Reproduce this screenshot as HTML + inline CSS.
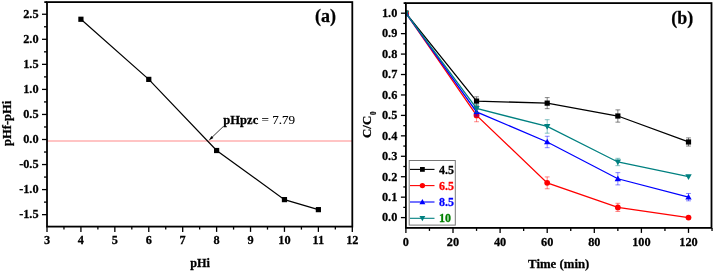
<!DOCTYPE html><html><head><meta charset="utf-8"><style>html,body{margin:0;padding:0;background:#fff;}svg{display:block;will-change:transform;}text{font-family:"Liberation Serif",serif;stroke:currentColor;stroke-width:0.25px;}</style></head><body>
<svg width="714" height="272" viewBox="0 0 714 272">
<rect width="714" height="272" fill="#fff"/>
<line x1="47.0" y1="141" x2="352.3" y2="141" stroke="#ffb0b0" stroke-width="1.6"/>
<rect x="47.0" y="2.1" width="305.3" height="224.5" fill="none" stroke="#000" stroke-width="1.8"/>
<line x1="44.3" y1="2.1" x2="47.0" y2="2.1" stroke="#000" stroke-width="1.8"/>
<line x1="42.0" y1="214.65" x2="47.0" y2="214.65" stroke="#000" stroke-width="1.3"/>
<text transform="translate(38.6 218.45) scale(1 1.08)" font-size="12.3" font-weight="bold" text-anchor="end">-1.5</text>
<line x1="44.0" y1="202.12" x2="47.0" y2="202.12" stroke="#000" stroke-width="1.3"/>
<line x1="42.0" y1="189.60" x2="47.0" y2="189.60" stroke="#000" stroke-width="1.3"/>
<text transform="translate(38.6 193.40) scale(1 1.08)" font-size="12.3" font-weight="bold" text-anchor="end">-1.0</text>
<line x1="44.0" y1="177.07" x2="47.0" y2="177.07" stroke="#000" stroke-width="1.3"/>
<line x1="42.0" y1="164.55" x2="47.0" y2="164.55" stroke="#000" stroke-width="1.3"/>
<text transform="translate(38.6 168.35) scale(1 1.08)" font-size="12.3" font-weight="bold" text-anchor="end">-0.5</text>
<line x1="44.0" y1="152.03" x2="47.0" y2="152.03" stroke="#000" stroke-width="1.3"/>
<line x1="42.0" y1="139.50" x2="47.0" y2="139.50" stroke="#000" stroke-width="1.3"/>
<text transform="translate(38.6 143.30) scale(1 1.08)" font-size="12.3" font-weight="bold" text-anchor="end">0.0</text>
<line x1="44.0" y1="126.97" x2="47.0" y2="126.97" stroke="#000" stroke-width="1.3"/>
<line x1="42.0" y1="114.45" x2="47.0" y2="114.45" stroke="#000" stroke-width="1.3"/>
<text transform="translate(38.6 118.25) scale(1 1.08)" font-size="12.3" font-weight="bold" text-anchor="end">0.5</text>
<line x1="44.0" y1="101.92" x2="47.0" y2="101.92" stroke="#000" stroke-width="1.3"/>
<line x1="42.0" y1="89.40" x2="47.0" y2="89.40" stroke="#000" stroke-width="1.3"/>
<text transform="translate(38.6 93.20) scale(1 1.08)" font-size="12.3" font-weight="bold" text-anchor="end">1.0</text>
<line x1="44.0" y1="76.88" x2="47.0" y2="76.88" stroke="#000" stroke-width="1.3"/>
<line x1="42.0" y1="64.35" x2="47.0" y2="64.35" stroke="#000" stroke-width="1.3"/>
<text transform="translate(38.6 68.15) scale(1 1.08)" font-size="12.3" font-weight="bold" text-anchor="end">1.5</text>
<line x1="44.0" y1="51.83" x2="47.0" y2="51.83" stroke="#000" stroke-width="1.3"/>
<line x1="42.0" y1="39.30" x2="47.0" y2="39.30" stroke="#000" stroke-width="1.3"/>
<text transform="translate(38.6 43.10) scale(1 1.08)" font-size="12.3" font-weight="bold" text-anchor="end">2.0</text>
<line x1="44.0" y1="26.77" x2="47.0" y2="26.77" stroke="#000" stroke-width="1.3"/>
<line x1="42.0" y1="14.25" x2="47.0" y2="14.25" stroke="#000" stroke-width="1.3"/>
<text transform="translate(38.6 18.05) scale(1 1.08)" font-size="12.3" font-weight="bold" text-anchor="end">2.5</text>
<line x1="47.00" y1="226.6" x2="47.00" y2="231.9" stroke="#000" stroke-width="1.3"/>
<text transform="translate(47.00 244.1) scale(1 1.08)" font-size="12.3" font-weight="bold" text-anchor="middle">3</text>
<line x1="63.96" y1="226.6" x2="63.96" y2="229.6" stroke="#000" stroke-width="1.3"/>
<line x1="80.92" y1="226.6" x2="80.92" y2="231.9" stroke="#000" stroke-width="1.3"/>
<text transform="translate(80.92 244.1) scale(1 1.08)" font-size="12.3" font-weight="bold" text-anchor="middle">4</text>
<line x1="97.88" y1="226.6" x2="97.88" y2="229.6" stroke="#000" stroke-width="1.3"/>
<line x1="114.84" y1="226.6" x2="114.84" y2="231.9" stroke="#000" stroke-width="1.3"/>
<text transform="translate(114.84 244.1) scale(1 1.08)" font-size="12.3" font-weight="bold" text-anchor="middle">5</text>
<line x1="131.81" y1="226.6" x2="131.81" y2="229.6" stroke="#000" stroke-width="1.3"/>
<line x1="148.77" y1="226.6" x2="148.77" y2="231.9" stroke="#000" stroke-width="1.3"/>
<text transform="translate(148.77 244.1) scale(1 1.08)" font-size="12.3" font-weight="bold" text-anchor="middle">6</text>
<line x1="165.73" y1="226.6" x2="165.73" y2="229.6" stroke="#000" stroke-width="1.3"/>
<line x1="182.69" y1="226.6" x2="182.69" y2="231.9" stroke="#000" stroke-width="1.3"/>
<text transform="translate(182.69 244.1) scale(1 1.08)" font-size="12.3" font-weight="bold" text-anchor="middle">7</text>
<line x1="199.65" y1="226.6" x2="199.65" y2="229.6" stroke="#000" stroke-width="1.3"/>
<line x1="216.61" y1="226.6" x2="216.61" y2="231.9" stroke="#000" stroke-width="1.3"/>
<text transform="translate(216.61 244.1) scale(1 1.08)" font-size="12.3" font-weight="bold" text-anchor="middle">8</text>
<line x1="233.57" y1="226.6" x2="233.57" y2="229.6" stroke="#000" stroke-width="1.3"/>
<line x1="250.53" y1="226.6" x2="250.53" y2="231.9" stroke="#000" stroke-width="1.3"/>
<text transform="translate(250.53 244.1) scale(1 1.08)" font-size="12.3" font-weight="bold" text-anchor="middle">9</text>
<line x1="267.49" y1="226.6" x2="267.49" y2="229.6" stroke="#000" stroke-width="1.3"/>
<line x1="284.46" y1="226.6" x2="284.46" y2="231.9" stroke="#000" stroke-width="1.3"/>
<text transform="translate(284.46 244.1) scale(1 1.08)" font-size="12.3" font-weight="bold" text-anchor="middle">10</text>
<line x1="301.42" y1="226.6" x2="301.42" y2="229.6" stroke="#000" stroke-width="1.3"/>
<line x1="318.38" y1="226.6" x2="318.38" y2="231.9" stroke="#000" stroke-width="1.3"/>
<text transform="translate(318.38 244.1) scale(1 1.08)" font-size="12.3" font-weight="bold" text-anchor="middle">11</text>
<line x1="335.34" y1="226.6" x2="335.34" y2="229.6" stroke="#000" stroke-width="1.3"/>
<line x1="352.30" y1="226.6" x2="352.30" y2="231.9" stroke="#000" stroke-width="1.3"/>
<text transform="translate(352.30 244.1) scale(1 1.08)" font-size="12.3" font-weight="bold" text-anchor="middle">12</text>
<polyline fill="none" stroke="#000" stroke-width="1.2" points="80.92,19.26 148.77,79.38 216.61,150.52 284.46,199.62 318.38,209.64"/>
<rect x="78.32" y="16.66" width="5.2" height="5.2" fill="#000"/>
<rect x="146.17" y="76.78" width="5.2" height="5.2" fill="#000"/>
<rect x="214.01" y="147.92" width="5.2" height="5.2" fill="#000"/>
<rect x="281.86" y="197.02" width="5.2" height="5.2" fill="#000"/>
<rect x="315.78" y="207.04" width="5.2" height="5.2" fill="#000"/>
<line x1="223.2" y1="126.6" x2="211.5" y2="137.8" stroke="#000" stroke-width="0.8"/>
<polygon points="208.8,140.4 213.38,137.95 211.44,135.93" fill="#000"/>
<text transform="translate(223.3 124.2) scale(1 1.02)" font-size="12.6"><tspan font-weight="bold">pHpzc</tspan><tspan font-size="13.1" style="stroke-width:0.1px"> = 7.79</tspan></text>
<text transform="translate(315 22.2) scale(1 1.06)" font-size="18" font-weight="bold">(a)</text>
<text transform="translate(200.05 266.8) scale(1 1.08)" font-size="12.3" font-weight="bold" text-anchor="middle">pHi</text>
<text transform="translate(11.0,123.35) rotate(-90)" font-size="12.5" font-weight="bold" text-anchor="middle">pHf-pHi</text>
<line x1="400.90" y1="217.60" x2="405.9" y2="217.60" stroke="#000" stroke-width="1.3"/>
<text transform="translate(397.3 221.40) scale(1 1.08)" font-size="12.3" font-weight="bold" text-anchor="end">0.0</text>
<line x1="403.30" y1="207.38" x2="405.9" y2="207.38" stroke="#000" stroke-width="1.3"/>
<line x1="400.90" y1="197.16" x2="405.9" y2="197.16" stroke="#000" stroke-width="1.3"/>
<text transform="translate(397.3 200.96) scale(1 1.08)" font-size="12.3" font-weight="bold" text-anchor="end">0.1</text>
<line x1="403.30" y1="186.94" x2="405.9" y2="186.94" stroke="#000" stroke-width="1.3"/>
<line x1="400.90" y1="176.72" x2="405.9" y2="176.72" stroke="#000" stroke-width="1.3"/>
<text transform="translate(397.3 180.52) scale(1 1.08)" font-size="12.3" font-weight="bold" text-anchor="end">0.2</text>
<line x1="403.30" y1="166.50" x2="405.9" y2="166.50" stroke="#000" stroke-width="1.3"/>
<line x1="400.90" y1="156.28" x2="405.9" y2="156.28" stroke="#000" stroke-width="1.3"/>
<text transform="translate(397.3 160.08) scale(1 1.08)" font-size="12.3" font-weight="bold" text-anchor="end">0.3</text>
<line x1="403.30" y1="146.06" x2="405.9" y2="146.06" stroke="#000" stroke-width="1.3"/>
<line x1="400.90" y1="135.84" x2="405.9" y2="135.84" stroke="#000" stroke-width="1.3"/>
<text transform="translate(397.3 139.64) scale(1 1.08)" font-size="12.3" font-weight="bold" text-anchor="end">0.4</text>
<line x1="403.30" y1="125.62" x2="405.9" y2="125.62" stroke="#000" stroke-width="1.3"/>
<line x1="400.90" y1="115.40" x2="405.9" y2="115.40" stroke="#000" stroke-width="1.3"/>
<text transform="translate(397.3 119.20) scale(1 1.08)" font-size="12.3" font-weight="bold" text-anchor="end">0.5</text>
<line x1="403.30" y1="105.18" x2="405.9" y2="105.18" stroke="#000" stroke-width="1.3"/>
<line x1="400.90" y1="94.96" x2="405.9" y2="94.96" stroke="#000" stroke-width="1.3"/>
<text transform="translate(397.3 98.76) scale(1 1.08)" font-size="12.3" font-weight="bold" text-anchor="end">0.6</text>
<line x1="403.30" y1="84.74" x2="405.9" y2="84.74" stroke="#000" stroke-width="1.3"/>
<line x1="400.90" y1="74.52" x2="405.9" y2="74.52" stroke="#000" stroke-width="1.3"/>
<text transform="translate(397.3 78.32) scale(1 1.08)" font-size="12.3" font-weight="bold" text-anchor="end">0.7</text>
<line x1="403.30" y1="64.30" x2="405.9" y2="64.30" stroke="#000" stroke-width="1.3"/>
<line x1="400.90" y1="54.08" x2="405.9" y2="54.08" stroke="#000" stroke-width="1.3"/>
<text transform="translate(397.3 57.88) scale(1 1.08)" font-size="12.3" font-weight="bold" text-anchor="end">0.8</text>
<line x1="403.30" y1="43.86" x2="405.9" y2="43.86" stroke="#000" stroke-width="1.3"/>
<line x1="400.90" y1="33.64" x2="405.9" y2="33.64" stroke="#000" stroke-width="1.3"/>
<text transform="translate(397.3 37.44) scale(1 1.08)" font-size="12.3" font-weight="bold" text-anchor="end">0.9</text>
<line x1="403.30" y1="23.42" x2="405.9" y2="23.42" stroke="#000" stroke-width="1.3"/>
<line x1="400.90" y1="13.20" x2="405.9" y2="13.20" stroke="#000" stroke-width="1.3"/>
<text transform="translate(397.3 17.00) scale(1 1.08)" font-size="12.3" font-weight="bold" text-anchor="end">1.0</text>
<line x1="405.90" y1="227.9" x2="405.90" y2="232.9" stroke="#000" stroke-width="1.3"/>
<text transform="translate(405.90 245.8) scale(1 1.08)" font-size="12.3" font-weight="bold" text-anchor="middle">0</text>
<line x1="429.45" y1="227.9" x2="429.45" y2="230.9" stroke="#000" stroke-width="1.3"/>
<line x1="453.00" y1="227.9" x2="453.00" y2="232.9" stroke="#000" stroke-width="1.3"/>
<text transform="translate(453.00 245.8) scale(1 1.08)" font-size="12.3" font-weight="bold" text-anchor="middle">20</text>
<line x1="476.55" y1="227.9" x2="476.55" y2="230.9" stroke="#000" stroke-width="1.3"/>
<line x1="500.10" y1="227.9" x2="500.10" y2="232.9" stroke="#000" stroke-width="1.3"/>
<text transform="translate(500.10 245.8) scale(1 1.08)" font-size="12.3" font-weight="bold" text-anchor="middle">40</text>
<line x1="523.65" y1="227.9" x2="523.65" y2="230.9" stroke="#000" stroke-width="1.3"/>
<line x1="547.20" y1="227.9" x2="547.20" y2="232.9" stroke="#000" stroke-width="1.3"/>
<text transform="translate(547.20 245.8) scale(1 1.08)" font-size="12.3" font-weight="bold" text-anchor="middle">60</text>
<line x1="570.75" y1="227.9" x2="570.75" y2="230.9" stroke="#000" stroke-width="1.3"/>
<line x1="594.30" y1="227.9" x2="594.30" y2="232.9" stroke="#000" stroke-width="1.3"/>
<text transform="translate(594.30 245.8) scale(1 1.08)" font-size="12.3" font-weight="bold" text-anchor="middle">80</text>
<line x1="617.85" y1="227.9" x2="617.85" y2="230.9" stroke="#000" stroke-width="1.3"/>
<line x1="641.40" y1="227.9" x2="641.40" y2="232.9" stroke="#000" stroke-width="1.3"/>
<text transform="translate(641.40 245.8) scale(1 1.08)" font-size="12.3" font-weight="bold" text-anchor="middle">100</text>
<line x1="664.95" y1="227.9" x2="664.95" y2="230.9" stroke="#000" stroke-width="1.3"/>
<line x1="688.50" y1="227.9" x2="688.50" y2="232.9" stroke="#000" stroke-width="1.3"/>
<text transform="translate(688.50 245.8) scale(1 1.08)" font-size="12.3" font-weight="bold" text-anchor="middle">120</text>
<line x1="712.05" y1="227.9" x2="712.05" y2="230.9" stroke="#000" stroke-width="1.3"/>
<clipPath id="rc"><rect x="405.9" y="3.1" width="305.60" height="224.80"/></clipPath><g clip-path="url(#rc)">
<path d="M476.55 96.80V105.38M474.15 96.80H478.95M474.15 105.38H478.95" stroke="#000000" stroke-width="0.8" fill="none" opacity="0.6"/>
<path d="M547.20 97.62V108.65M544.80 97.62H549.60M544.80 108.65H549.60" stroke="#000000" stroke-width="0.8" fill="none" opacity="0.6"/>
<path d="M617.85 109.88V122.15M615.45 109.88H620.25M615.45 122.15H620.25" stroke="#000000" stroke-width="0.8" fill="none" opacity="0.6"/>
<path d="M688.50 137.88V146.06M686.10 137.88H690.90M686.10 146.06H690.90" stroke="#000000" stroke-width="0.8" fill="none" opacity="0.6"/>
<polyline fill="none" stroke="#000000" stroke-width="1.3" points="405.90,13.20 476.55,101.09 547.20,103.14 617.85,116.01 688.50,141.97"/>
<rect x="403.30" y="10.60" width="5.20" height="5.20" fill="#000000"/>
<rect x="473.95" y="98.49" width="5.20" height="5.20" fill="#000000"/>
<rect x="544.60" y="100.54" width="5.20" height="5.20" fill="#000000"/>
<rect x="615.25" y="113.41" width="5.20" height="5.20" fill="#000000"/>
<rect x="685.90" y="139.37" width="5.20" height="5.20" fill="#000000"/>
<path d="M476.55 109.06V121.74M474.15 109.06H478.95M474.15 121.74H478.95" stroke="#ff0000" stroke-width="0.8" fill="none" opacity="0.6"/>
<path d="M547.20 176.92V188.78M544.80 176.92H549.60M544.80 188.78H549.60" stroke="#ff0000" stroke-width="0.8" fill="none" opacity="0.6"/>
<path d="M617.85 203.29V211.47M615.45 203.29H620.25M615.45 211.47H620.25" stroke="#ff0000" stroke-width="0.8" fill="none" opacity="0.6"/>
<polyline fill="none" stroke="#ff0000" stroke-width="1.3" points="405.90,13.20 476.55,115.40 547.20,182.85 617.85,207.38 688.50,217.60"/>
<circle cx="405.90" cy="13.20" r="2.90" fill="#ff0000"/>
<circle cx="476.55" cy="115.40" r="2.90" fill="#ff0000"/>
<circle cx="547.20" cy="182.85" r="2.90" fill="#ff0000"/>
<circle cx="617.85" cy="207.38" r="2.90" fill="#ff0000"/>
<circle cx="688.50" cy="217.60" r="2.90" fill="#ff0000"/>
<path d="M476.55 107.84V116.01M474.15 107.84H478.95M474.15 116.01H478.95" stroke="#0000ff" stroke-width="0.8" fill="none" opacity="0.6"/>
<path d="M547.20 136.25V147.70M544.80 136.25H549.60M544.80 147.70H549.60" stroke="#0000ff" stroke-width="0.8" fill="none" opacity="0.6"/>
<path d="M617.85 172.63V184.90M615.45 172.63H620.25M615.45 184.90H620.25" stroke="#0000ff" stroke-width="0.8" fill="none" opacity="0.6"/>
<path d="M688.50 193.48V200.84M686.10 193.48H690.90M686.10 200.84H690.90" stroke="#0000ff" stroke-width="0.8" fill="none" opacity="0.6"/>
<polyline fill="none" stroke="#0000ff" stroke-width="1.3" points="405.90,13.20 476.55,111.93 547.20,141.97 617.85,178.76 688.50,197.16"/>
<polygon points="405.90,10.00 409.10,15.60 402.70,15.60" fill="#0000ff"/>
<polygon points="476.55,108.73 479.75,114.33 473.35,114.33" fill="#0000ff"/>
<polygon points="547.20,138.77 550.40,144.37 544.00,144.37" fill="#0000ff"/>
<polygon points="617.85,175.56 621.05,181.16 614.65,181.16" fill="#0000ff"/>
<polygon points="688.50,193.96 691.70,199.56 685.30,199.56" fill="#0000ff"/>
<path d="M476.55 104.36V112.54M474.15 104.36H478.95M474.15 112.54H478.95" stroke="#008080" stroke-width="0.8" fill="none" opacity="0.6"/>
<path d="M547.20 119.69V133.18M544.80 119.69H549.60M544.80 133.18H549.60" stroke="#008080" stroke-width="0.8" fill="none" opacity="0.6"/>
<path d="M617.85 158.32V165.68M615.45 158.32H620.25M615.45 165.68H620.25" stroke="#008080" stroke-width="0.8" fill="none" opacity="0.6"/>
<polyline fill="none" stroke="#008080" stroke-width="1.3" points="405.90,13.20 476.55,108.45 547.20,126.44 617.85,162.00 688.50,176.72"/>
<polygon points="405.90,16.40 409.10,10.80 402.70,10.80" fill="#008080"/>
<polygon points="476.55,111.65 479.75,106.05 473.35,106.05" fill="#008080"/>
<polygon points="547.20,129.64 550.40,124.04 544.00,124.04" fill="#008080"/>
<polygon points="617.85,165.20 621.05,159.60 614.65,159.60" fill="#008080"/>
<polygon points="688.50,179.92 691.70,174.32 685.30,174.32" fill="#008080"/>
</g>
<line x1="403.6" y1="3.1" x2="405.9" y2="3.1" stroke="#000" stroke-width="1.8"/>
<rect x="405.9" y="3.1" width="305.60" height="224.80" fill="none" stroke="#000" stroke-width="1.8"/>
<rect x="409.2" y="160.5" width="46.1" height="64.6" fill="#fff" stroke="#777" stroke-width="1"/>
<line x1="410" y1="169.4" x2="434.5" y2="169.4" stroke="#000" stroke-width="1.1"/>
<rect x="420.01" y="167.01" width="4.78" height="4.78" fill="#000"/>
<text transform="translate(439 173.50) scale(1 1.08)" font-size="12" font-weight="bold" style="fill:#000;stroke:#000">4.5</text>
<line x1="410" y1="185.6" x2="434.5" y2="185.6" stroke="#f00" stroke-width="1.1"/>
<circle cx="422.40" cy="185.60" r="2.67" fill="#f00"/>
<text transform="translate(439 189.70) scale(1 1.08)" font-size="12" font-weight="bold" style="fill:#f00;stroke:#f00">6.5</text>
<line x1="410" y1="202.0" x2="434.5" y2="202.0" stroke="#00f" stroke-width="1.1"/>
<polygon points="422.40,199.06 425.34,204.21 419.46,204.21" fill="#00f"/>
<text transform="translate(439 206.10) scale(1 1.08)" font-size="12" font-weight="bold" style="fill:#00f;stroke:#00f">8.5</text>
<line x1="410" y1="218.3" x2="434.5" y2="218.3" stroke="#008080" stroke-width="1.1"/>
<polygon points="422.40,221.24 425.34,216.09 419.46,216.09" fill="#008080"/>
<text transform="translate(439 222.40) scale(1 1.08)" font-size="12" font-weight="bold" style="fill:#008000;stroke:#008000">10</text>
<text transform="translate(671.3 24.1) scale(1 1.04)" font-size="18" font-weight="bold">(b)</text>
<text transform="translate(558.70 267.7) scale(1 1.05)" font-size="12.8" font-weight="bold" text-anchor="middle">Time (min)</text>
<text transform="translate(371.3,137.9) rotate(-90)" font-size="12.8" font-weight="bold">C/C<tspan font-size="7.2" dx="0.9" dy="4.2">0</tspan></text>
</svg></body></html>
